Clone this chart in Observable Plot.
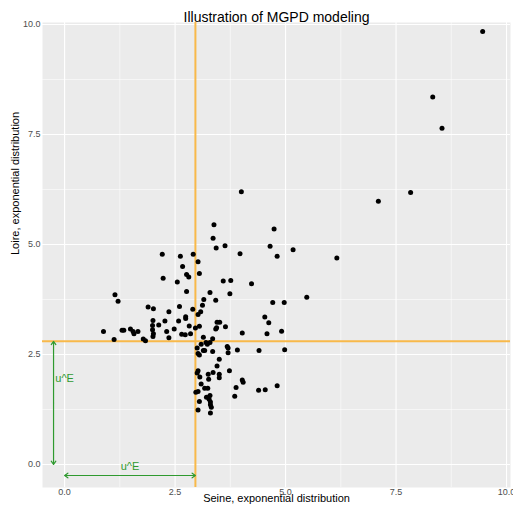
<!DOCTYPE html>
<html>
<head>
<meta charset="utf-8">
<script src="https://cdn.jsdelivr.net/npm/d3@7"></script>
<script src="https://cdn.jsdelivr.net/npm/@observablehq/plot@0.6"></script>
<style>
  body { margin: 0; background: #ffffff; }
  svg { display: block; }
</style>
</head>
<body>
<div id="chart"></div>
<script>
// Paired observations on exponential margins
const seine = [
  2.21, 2.62, 2.91, 3.02, 2.67, 2.76, 2.81, 2.23, 2.55, 3.05,
  2.76, 3.29, 1.14, 1.21, 3.15, 3.12, 1.89, 2.01, 2.60, 2.90,
  2.36, 3.08, 3.02, 2.74, 2.74, 2.00, 1.99, 2.27, 2.13, 2.58,
  2.82, 2.96, 3.05, 0.88, 1.30, 1.34, 1.49, 1.55, 1.57, 1.66,
  1.99, 2.01, 2.00, 2.31, 2.48, 2.65, 2.73, 2.85, 2.36, 1.78,
  1.83, 1.12, 3.14, 3.35, 3.45, 3.51, 3.42, 3.44, 3.64, 4.62,
  4.02, 4.58, 4.91,
  4.00, 3.38, 4.74, 3.36, 3.43, 3.63, 4.65, 5.17, 3.97, 4.81,
  6.16, 3.59, 3.76, 4.23, 3.74, 3.42, 5.48, 4.71, 4.97, 4.53,
  7.10, 7.83, 9.46, 8.33, 8.54,
  3.09, 3.20, 3.23, 3.29, 3.00, 3.02, 3.05, 3.14, 3.17, 3.35,
  3.68, 3.70, 3.70, 3.91, 4.40, 4.98, 3.50, 3.45, 3.73, 3.02,
  3.00, 3.36, 3.25, 3.50, 3.50, 3.06, 3.26, 4.02, 4.04, 3.09,
  3.88, 4.39, 4.54, 4.81, 3.17, 3.24, 2.97, 3.02, 3.85, 3.21,
  3.29, 3.27, 3.05, 3.30, 3.30, 3.32, 3.02, 3.30
];
const loire = [
  4.78, 4.73, 4.78, 4.61, 4.50, 4.32, 4.26, 4.23, 4.15, 4.34,
  3.93, 3.91, 3.86, 3.71, 3.75, 3.62, 3.58, 3.54, 3.59, 3.53,
  3.47, 3.47, 3.41, 3.36, 3.32, 3.27, 3.16, 3.26, 3.17, 3.26,
  3.15, 3.10, 3.14, 3.02, 3.05, 3.05, 3.08, 3.02, 2.97, 3.02,
  3.06, 2.97, 2.91, 3.02, 3.08, 2.96, 2.95, 2.97, 2.88, 2.85,
  2.81, 2.84, 2.89, 2.86, 3.23, 3.23, 3.08, 3.11, 3.13, 3.22,
  2.99, 2.97, 3.03,
  6.20, 5.45, 5.35, 5.14, 4.92, 4.97, 4.96, 4.88, 4.79, 4.73,
  4.69, 4.17, 4.18, 4.11, 3.88, 3.73, 3.80, 3.68, 3.68, 3.35,
  5.98, 6.18, 9.84, 8.35, 7.64,
  2.73, 2.77, 2.73, 2.77, 2.65, 2.52, 2.49, 2.59, 2.59, 2.57,
  2.68, 2.65, 2.54, 2.60, 2.59, 2.61, 2.39, 2.24, 2.13, 2.13,
  2.08, 2.09, 2.05, 2.05, 1.97, 1.99, 1.94, 1.92, 1.87, 1.83,
  1.75, 1.69, 1.70, 1.79, 1.73, 1.73, 1.64, 1.66, 1.55, 1.53,
  1.57, 1.48, 1.43, 1.42, 1.36, 1.30, 1.24, 1.17
];

// Thresholds on the exponential scale
const uSeine = 2.96;
const uLoire = 2.80;

// Annotation placement
const arrowOffset = -0.25;
const labelVertical = { x: 0, y: 1.96 };
const labelHorizontal = { x: 1.48, y: -0.04 };
const thresholdLabel = "u^E";

const majorTicks = [0, 2.5, 5, 7.5, 10];
const minorTicks = [1.25, 3.75, 6.25, 8.75];

const title = "Illustration of MGPD modeling";
const xTitle = "Seine, exponential distribution";
const yTitle = "Loire, exponential distribution";

const green = "#2f9a2f";
const orange = "#f8b94a";

const obs = seine.map((s, i) => ({ seine: s, loire: loire[i] }));

// Each double-headed arrow is drawn as two arrows leaving its midpoint
const vMid = uLoire / 2, hMid = uSeine / 2;
const arrows = [
  { x1: arrowOffset, y1: vMid, x2: arrowOffset, y2: uLoire },
  { x1: arrowOffset, y1: vMid, x2: arrowOffset, y2: 0 },
  { x1: hMid, y1: arrowOffset, x2: uSeine, y2: arrowOffset },
  { x1: hMid, y1: arrowOffset, x2: 0, y2: arrowOffset }
];

const chart = Plot.plot({
  width: 513,
  height: 508,
  marginLeft: 42,
  marginRight: 3,
  marginTop: 22,
  marginBottom: 21,
  style: { fontFamily: "'Liberation Sans', Arial, Helvetica, sans-serif", background: "#ffffff", overflow: "visible" },
  x: { domain: [-0.5, 10.09] },
  y: { domain: [-0.523, 10.045] },
  marks: [
    Plot.frame({ fill: "#ebebeb", stroke: null }),
    Plot.gridX(minorTicks, { stroke: "#ffffff", strokeOpacity: 1, strokeWidth: 0.55 }),
    Plot.gridY(minorTicks, { stroke: "#ffffff", strokeOpacity: 1, strokeWidth: 0.55 }),
    Plot.gridX(majorTicks, { stroke: "#ffffff", strokeOpacity: 1, strokeWidth: 1.1 }),
    Plot.gridY(majorTicks, { stroke: "#ffffff", strokeOpacity: 1, strokeWidth: 1.1 }),
    Plot.ruleX([uSeine], { stroke: orange, strokeWidth: 2 }),
    Plot.ruleY([uLoire], { stroke: orange, strokeWidth: 2 }),
    Plot.dot(obs, { x: "seine", y: "loire", r: 2.5, fill: "#000000", stroke: null }),
    Plot.arrow(arrows, {
      x1: "x1", y1: "y1", x2: "x2", y2: "y2",
      stroke: green, strokeWidth: 1.2, headLength: 5, headAngle: 70
    }),
    Plot.text([thresholdLabel], { x: labelVertical.x, y: labelVertical.y, fill: green, fontSize: 11 }),
    Plot.text([thresholdLabel], { x: labelHorizontal.x, y: labelHorizontal.y, fill: green, fontSize: 11 }),
    Plot.axisX(majorTicks, {
      tickSize: 0, tickPadding: 1.5, tickFormat: d3.format(".1f"),
      fontSize: 9, fill: "#4d4d4d", label: null
    }),
    Plot.axisY(majorTicks, {
      tickSize: 0, tickPadding: 2, tickFormat: d3.format(".1f"),
      fontSize: 9, fill: "#4d4d4d", label: null
    }),
    Plot.text([xTitle], { frameAnchor: "bottom", dy: 14.7, fontSize: 11, fill: "#000000" }),
    Plot.text([yTitle], { frameAnchor: "left", dx: -27, rotate: -90, fontSize: 11, fill: "#000000" }),
    Plot.text([title], { frameAnchor: "top", dy: -10, fontSize: 14, fill: "#000000" })
  ]
});

document.getElementById("chart").appendChild(chart);
</script>
</body>
</html>
